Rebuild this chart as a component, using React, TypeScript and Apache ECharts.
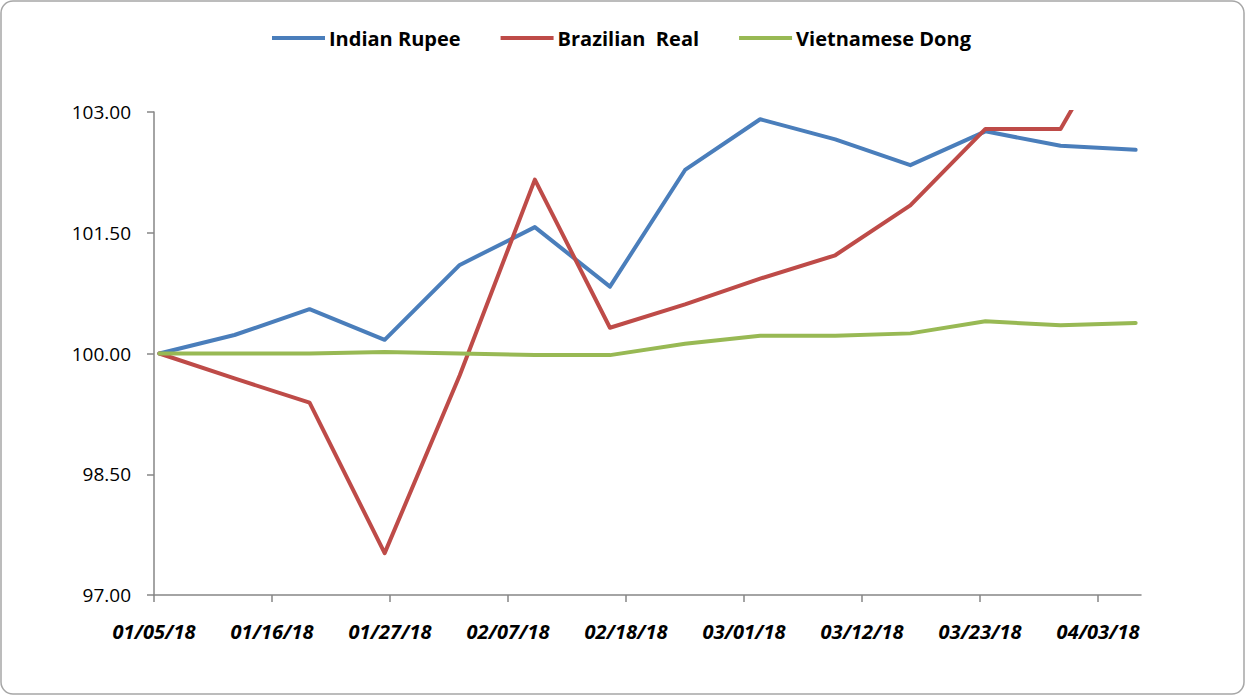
import React, { useEffect, useRef } from "react";
import * as echarts from "echarts";

const dates = [
  "2018-01-05", "2018-01-12", "2018-01-19", "2018-01-26", "2018-02-02", "2018-02-09", "2018-02-16",
  "2018-02-23", "2018-03-02", "2018-03-09", "2018-03-16", "2018-03-23", "2018-03-30", "2018-04-06",
];
const indianRupee = [100, 100.23, 100.55, 100.17, 101.1, 101.57, 100.83, 102.28, 102.91, 102.66, 102.34, 102.76, 102.58, 102.53];
const brazilianReal = [100, 99.69, 99.39, 97.52, 99.73, 102.16, 100.32, 100.61, 100.93, 101.22, 101.84, 102.79, 102.79, 104.4];
const vietnameseDong = [100, 100, 100, 100.02, 100.0, 99.98, 99.98, 100.12, 100.22, 100.22, 100.25, 100.4, 100.35, 100.38];

const xTickLabels = ["01/05/18", "01/16/18", "01/27/18", "02/07/18", "02/18/18", "03/01/18", "03/12/18", "03/23/18", "04/03/18"];
const xAxisEnd = "2018-04-07";
const yTickValues = [97, 98.5, 100, 101.5, 103];

const DAY = 86400000;
const toUTC = (iso: string) => {
  const [y, m, d] = iso.split("-").map(Number);
  return Date.UTC(y, m - 1, d);
};
const base = toUTC(dates[0]);
const dayOf = (iso: string) => Math.round((toUTC(iso) - base) / DAY);
const labelToIso = (s: string) => {
  const [m, d, y] = s.split("/");
  return `20${y}-${m}-${d}`;
};
const xTickDays = xTickLabels.map((l) => dayOf(labelToIso(l)));
const fmtDay = (v: number) => {
  const dt = new Date(base + Math.round(v) * DAY);
  const mm = String(dt.getUTCMonth() + 1).padStart(2, "0");
  const dd = String(dt.getUTCDate()).padStart(2, "0");
  const yy = String(dt.getUTCFullYear()).slice(2);
  return `${mm}/${dd}/${yy}`;
};

const FONT = "Open Sans";

export default function App() {
  const ref = useRef<HTMLDivElement>(null);
  useEffect(() => {
    if (!ref.current) return;
    const chart = echarts.init(ref.current, null, { renderer: "svg" });
    // points sit in the middle of their day slot (date axis, between tick marks)
    const mk = (name: string, vals: number[], color: string) => ({
      name,
      type: "line",
      data: vals.map((v, i) => [dayOf(dates[i]) + 0.5, v]),
      showSymbol: false,
      symbol: "none",
      clip: true,
      lineStyle: { color, width: 4, cap: "round", join: "round" },
      itemStyle: { color },
    });
    chart.setOption({
      animation: false,
      backgroundColor: "#ffffff",
      graphic: [
        {
          type: "rect",
          shape: { x: 1, y: 1, width: 1243, height: 693, r: 12 },
          style: { fill: "none", stroke: "#a6a6a6", lineWidth: 1.5 },
          silent: true,
        },
      ],
      legend: {
        top: 28,
        left: 272,
        padding: 0,
        icon: "rect",
        itemWidth: 53,
        itemHeight: 4,
        itemGap: 40,
        textStyle: { fontFamily: FONT, fontWeight: "bold", fontSize: 20, color: "#000", padding: [0, 0, 0, -1] },
        data: ["Indian Rupee", "Brazilian  Real", "Vietnamese Dong"],
      },
      grid: { left: 154, right: 105, top: 112, bottom: 101 },
      xAxis: {
        type: "value",
        min: 0,
        max: dayOf(xAxisEnd),
        splitLine: { show: false },
        axisLine: { lineStyle: { color: "#868686", width: 1.5 } },
        axisTick: { show: true, length: 7, customValues: xTickDays, lineStyle: { color: "#868686", width: 1.5 } },
        axisLabel: {
          customValues: xTickDays,
          formatter: (v: number) => fmtDay(v),
          margin: 26,
          fontFamily: FONT,
          fontStyle: "italic",
          fontWeight: "bold",
          fontSize: 20,
          color: "#000",
        },
      },
      yAxis: {
        type: "value",
        min: 97,
        max: 103,
        splitLine: { show: false },
        axisLine: { show: true, lineStyle: { color: "#868686", width: 1.5 } },
        axisTick: { show: true, length: 7, customValues: yTickValues, lineStyle: { color: "#868686", width: 1.5 } },
        axisLabel: {
          customValues: yTickValues,
          formatter: (v: number) => v.toFixed(2),
          margin: 23,
          fontFamily: FONT,
          fontSize: 19,
          color: "#000",
        },
      },
      series: [
        mk("Indian Rupee", indianRupee, "#4a7ebb"),
        mk("Brazilian  Real", brazilianReal, "#be4b48"),
        mk("Vietnamese Dong", vietnameseDong, "#98b954"),
      ],
    });
    return () => chart.dispose();
  }, []);
  return <div ref={ref} style={{ position: "absolute", left: 0, top: 0, width: 1246, height: 696 }} />;
}
